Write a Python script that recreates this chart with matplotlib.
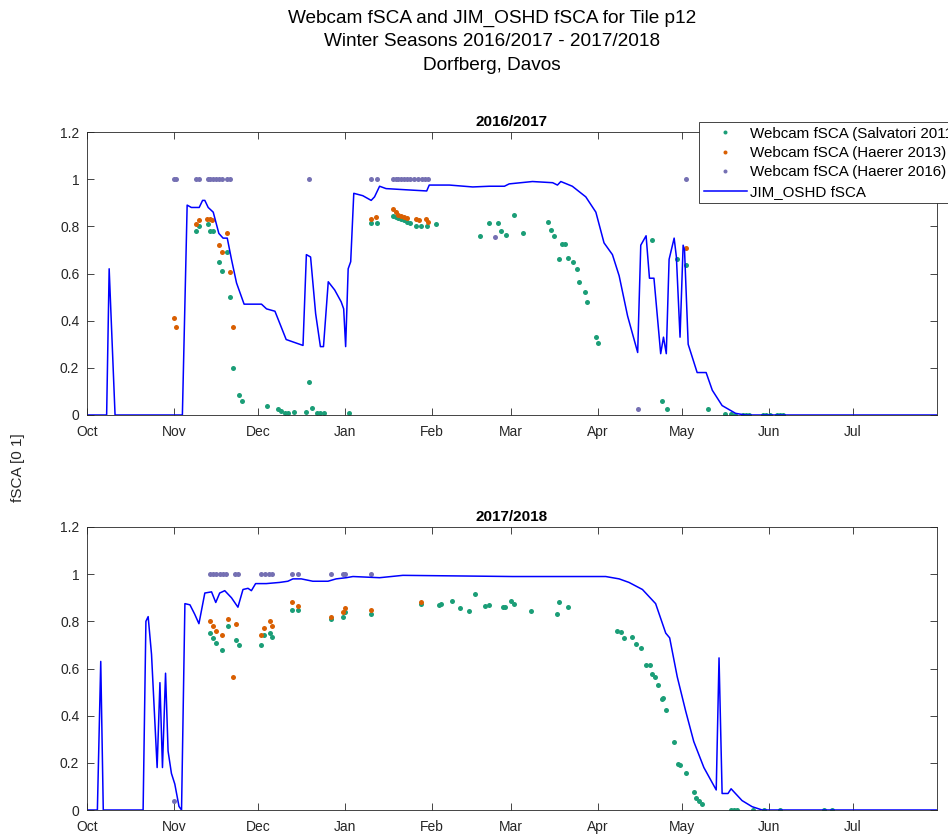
import matplotlib
matplotlib.use("Agg")
import matplotlib.pyplot as plt

plt.rcParams['font.family'] = ['Liberation Sans', 'DejaVu Sans']

# x values: days since 1 October of each season
month_ticks = [0, 31, 61, 92, 123, 151, 182, 212, 243, 273]
month_labels = ['Oct', 'Nov', 'Dec', 'Jan', 'Feb', 'Mar', 'Apr', 'May', 'Jun', 'Jul']
season_titles = ['2016/2017', '2017/2018']

# ---------------- Season 2016/2017 ----------------
jim1_days = [0, 7.0, 7.9, 10.0, 34.0, 35.7, 37.2, 40, 41.2, 42, 43.2, 45, 47, 48.5, 50, 51.5,
             53.3, 56, 62.2, 64, 67, 71, 73.4, 77, 78.2, 79.7, 81.5, 83.2, 84.3, 86, 88.3,
             90.6, 91.5, 92.2, 93.1, 94, 95.1, 98.3, 101.3, 102.5, 104.3, 106.6, 113.7,
             121.1, 122, 129.2, 137.5, 143.4, 148.8, 150.5, 158.8, 166, 167.7, 168.9, 173,
             177.8, 181.4, 184.3, 187.3, 189.7, 192.7, 196.3, 197.4, 199.3, 200.5, 202.1,
             204.5, 205.5, 206.5, 207.5, 209.3, 210.1, 211.4, 212.5, 213, 214.3, 217.5,
             220.7, 222.9, 226.4, 231.2, 234.7, 303]
jim1_vals = [0, 0, 0.62, 0, 0, 0.89, 0.88, 0.88, 0.91, 0.91, 0.88, 0.86, 0.77, 0.75, 0.75, 0.66,
             0.56, 0.47, 0.47, 0.45, 0.44, 0.32, 0.31, 0.295, 0.68, 0.67, 0.43, 0.29, 0.29, 0.565,
             0.53, 0.48, 0.45, 0.29, 0.62, 0.65, 0.94, 0.93, 0.91, 0.925, 0.97, 0.96, 0.955,
             0.95, 0.975, 0.975, 0.967, 0.97, 0.97, 0.98, 0.99, 0.985, 0.975, 0.99, 0.97,
             0.925, 0.86, 0.73, 0.68, 0.59, 0.42, 0.265, 0.72, 0.76, 0.58, 0.58,
             0.26, 0.33, 0.26, 0.66, 0.75, 0.67, 0.33, 0.72, 0.70, 0.30, 0.18,
             0.18, 0.105, 0.04, 0.007, 0, 0]

salv1_days = [39, 40, 43.2, 44, 45, 47.1, 48, 50, 51.1, 52.1, 54.2, 55.2, 64.2, 68.1, 69, 70.5,
              71.5, 73.7, 78.2, 79.1, 80.2, 82, 83.2, 84.4, 93.3, 101.3, 103.2, 109, 110, 111,
              112, 113, 114, 115, 117.3, 119.1, 121.1, 124.4, 140.2, 143.4, 146.4, 147.5,
              149.3, 152.3, 155.3, 164.4, 165.4, 166.5, 169.2, 170.5, 168.3, 171.3, 173.4,
              174.5, 175.4, 177.5, 178.4, 181.4, 182.3, 201.3, 205.1, 206.6, 210.4, 213.6,
              221.5, 227.6, 229.5, 231, 234, 235, 236, 241, 242, 243.5, 246, 247, 248]
salv1_vals = [0.78, 0.80, 0.81, 0.78, 0.78, 0.65, 0.61, 0.69, 0.50, 0.20, 0.085, 0.06, 0.04, 0.027,
              0.017, 0.01, 0.008, 0.014, 0.013, 0.14, 0.028, 0.01, 0.01, 0.01, 0.01, 0.815, 0.815,
              0.845, 0.84, 0.835, 0.83, 0.825, 0.82, 0.815, 0.80, 0.80, 0.80, 0.81, 0.76, 0.815,
              0.815, 0.78, 0.765, 0.85, 0.77, 0.82, 0.785, 0.76, 0.725, 0.725, 0.66, 0.665, 0.65,
              0.62, 0.565, 0.52, 0.48, 0.33, 0.305, 0.74, 0.06, 0.027, 0.66, 0.635,
              0.027, 0.003, 0.003, 0.002, 0.002, 0.002, 0.002, 0.002, 0.002, 0.002, 0.002, 0.002,
              0.002]

h13_1_days = [31.1, 31.9, 39, 40, 42.8, 43.7, 44.7, 50, 47.1, 48, 51.1, 52.1, 101.3, 103.1,
              109, 110, 111, 112, 113, 114, 117.3, 118.5, 120.9, 121.5, 213.4]
h13_1_vals = [0.41, 0.375, 0.81, 0.825, 0.83, 0.83, 0.825, 0.77, 0.72, 0.69, 0.605, 0.375,
              0.83, 0.84, 0.875, 0.86, 0.85, 0.845, 0.84, 0.835, 0.83, 0.825, 0.83, 0.82, 0.71]

h16_1_days = [31.1, 31.9, 39, 40, 43.2, 44, 45, 46, 47.1, 48.3, 50, 51.1, 79.1, 101.3, 103.4,
              109, 110, 111, 112, 113, 114, 115, 116.7, 118, 119.3, 120.5, 121.5, 145.3,
              196.4, 213.6]
h16_1_vals = [1, 1, 1, 1, 1, 1, 1, 1, 1, 1, 1, 1, 1, 1, 1,
              1, 1, 1, 1, 1, 1, 1, 1, 1, 1, 1, 1, 0.755,
              0.027, 1]

# ---------------- Season 2017/2018 ----------------
jim2_days = [0, 3.7, 4.9, 5.8, 20, 21, 21.8, 23, 25, 26, 26.9, 28, 28.9, 30.1, 31.3, 32.8, 33.7,
             34.9, 36.7, 38.4, 39.9, 42, 44.4, 45.9, 47.3, 49.1, 51.5, 53.8, 55.6, 57.4, 58.6,
             60.1, 63.9, 68.7, 71.6, 73.4, 76.4, 80.5, 85.9, 88.8, 92.4, 94.8, 104.3, 112.6,
             151.7, 184.9, 189.7, 193.2, 198, 202.7, 206.3, 207.7, 210.4, 213.4, 216.3, 219.9,
             224.3, 225.3, 226.4, 228.5, 229.6, 233.5, 237.1, 240.7, 303]
jim2_vals = [0, 0, 0.63, 0, 0, 0.80, 0.82, 0.66, 0.18, 0.54, 0.18, 0.58, 0.25, 0.155, 0.11, 0.015, 0,
             0.875, 0.87, 0.83, 0.79, 0.92, 0.925, 0.88, 0.92, 0.93, 0.90, 0.86, 0.935, 0.94, 0.93,
             0.96, 0.96, 0.965, 0.97, 0.98, 0.98, 0.97, 0.97, 0.98, 0.985, 0.99, 0.985, 0.995,
             0.99, 0.99, 0.98, 0.965, 0.935, 0.875, 0.75, 0.73, 0.565, 0.42, 0.29, 0.18,
             0.085, 0.645, 0.07, 0.07, 0.09, 0.04, 0.014, 0, 0]

salv2_days = [44, 45, 45.9, 48, 50.1, 53, 54.1, 62.2, 63, 65.1, 66.1, 73.1, 75.2, 87.1, 91.2,
              92.1, 101.3, 119.1, 125.4, 126.2, 130.1, 133.1, 136.3, 138.3, 142, 143.4, 148.2,
              149, 151.3, 152.3, 158.2, 167.4, 168.3, 171.5, 189.1, 190.3, 191.5, 194.4, 195.6,
              197.6, 199.2, 200.6, 201.5, 202.5, 203.6, 204.8, 205.3, 206.5, 209.3, 210.8,
              211.4, 213.4, 216.3, 217.2, 218, 219.3, 229.4, 230.8, 231.6, 237.5, 241.5, 247,
              262.6, 265.6]
salv2_vals = [0.75, 0.73, 0.71, 0.68, 0.78, 0.72, 0.70, 0.70, 0.74, 0.75, 0.735, 0.85, 0.85, 0.81,
              0.82, 0.84, 0.83, 0.875, 0.87, 0.875, 0.885, 0.855, 0.845, 0.915, 0.865, 0.87, 0.86,
              0.862, 0.885, 0.875, 0.845, 0.83, 0.88, 0.86, 0.76, 0.755, 0.73, 0.735, 0.705,
              0.685, 0.615, 0.615, 0.575, 0.565, 0.53, 0.47, 0.475, 0.425, 0.29, 0.195,
              0.19, 0.155, 0.078, 0.052, 0.04, 0.025, 0.002, 0.002, 0.002, 0.002, 0.002, 0.002,
              0.002, 0.002]

h13_2_days = [44, 45, 45.9, 48, 50.1, 52.1, 53, 62.2, 63, 65.1, 66.1, 73.1, 75.2, 87.1, 91.2,
              92.1, 101.3, 119.1]
h13_2_vals = [0.80, 0.78, 0.76, 0.74, 0.81, 0.565, 0.79, 0.74, 0.77, 0.80, 0.78, 0.88, 0.865,
              0.82, 0.84, 0.855, 0.85, 0.88]

h16_2_days = [31.1, 43.8, 45, 46.1, 47.3, 48.5, 49.7, 52.7, 53.8, 62.2, 63.3, 64.9, 66.1, 73.1,
              75.2, 87.1, 91.2, 92.1, 101.3]
h16_2_vals = [0.04, 1, 1, 1, 1, 1, 1, 1, 1, 1, 1, 1, 1, 1,
              1, 1, 1, 1, 1]

seasons = [
    (jim1_days, jim1_vals, salv1_days, salv1_vals, h13_1_days, h13_1_vals, h16_1_days, h16_1_vals),
    (jim2_days, jim2_vals, salv2_days, salv2_vals, h13_2_days, h13_2_vals, h16_2_days, h16_2_vals),
]

c_salv = '#1b9e77'
c_h13 = '#d95f02'
c_h16 = '#7570b3'
c_jim = '#0000ff'
axis_col = '#262626'

fig = plt.figure(figsize=(9.48, 8.36), dpi=100)
W, H = 948, 836
ax_left, ax_right = 87, 937
ax_tops = [132, 527]
ax_bots = [415, 810]

handles = None
for i, (jd, jv, sd, sv, h13d, h13v, h16d, h16v) in enumerate(seasons):
    ax = fig.add_axes([ax_left / W, 1 - ax_bots[i] / H, (ax_right - ax_left) / W,
                       (ax_bots[i] - ax_tops[i]) / H])
    ms = 3.6
    l1, = ax.plot(sd, sv, 'o', color=c_salv, ms=ms, mew=0, linestyle='none',
                  label='Webcam fSCA (Salvatori 2011)')
    l2, = ax.plot(h13d, h13v, 'o', color=c_h13, ms=ms, mew=0, linestyle='none',
                  label='Webcam fSCA (Haerer 2013)')
    l3, = ax.plot(h16d, h16v, 'o', color=c_h16, ms=ms, mew=0, linestyle='none',
                  label='Webcam fSCA (Haerer 2016)')
    l4, = ax.plot(jd, jv, '-', color=c_jim, lw=1.1, label='JIM_OSHD fSCA')
    if handles is None:
        handles = [l1, l2, l3, l4]
    ax.set_xlim(0, 303)
    ax.set_ylim(0, 1.2)
    ax.set_xticks(month_ticks)
    ax.set_xticklabels(month_labels)
    ax.set_yticks([0, 0.2, 0.4, 0.6, 0.8, 1, 1.2])
    ax.set_yticklabels(['0', '0.2', '0.4', '0.6', '0.8', '1', '1.2'])
    ax.tick_params(direction='in', top=True, right=True, length=5, width=0.6,
                   labelsize=10, colors=axis_col, labelcolor=axis_col)
    ax.tick_params(axis='x', pad=7.5)
    ax.tick_params(axis='y', pad=5.5)
    for sp in ax.spines.values():
        sp.set_color(axis_col)
        sp.set_linewidth(0.6)
    ax.set_title(season_titles[i], fontsize=11, fontweight='bold', pad=4)

title_x = 492 / W
fig.text(title_x, 1 - 18 / H, 'Webcam fSCA and JIM_OSHD fSCA for Tile p12', ha='center',
         va='center', fontsize=13.7)
fig.text(title_x, 1 - 42 / H, 'Winter Seasons 2016/2017 - 2017/2018', ha='center',
         va='center', fontsize=13.7)
fig.text(title_x, 1 - 66 / H, 'Dorfberg, Davos', ha='center', va='center', fontsize=13.7)
fig.text(18 / W, 1 - 468 / H, 'fSCA [0 1]', rotation=90, ha='center', va='center',
         fontsize=11, color=axis_col)

leg = fig.legend(handles=handles, loc='upper left', bbox_to_anchor=(699 / W, 1 - 122 / H),
                 bbox_transform=fig.transFigure, fontsize=10.9, frameon=True, fancybox=False,
                 edgecolor=axis_col, framealpha=1, handlelength=2.9, handletextpad=0.2,
                 labelspacing=0.36, borderpad=0.3, borderaxespad=0, markerscale=0.8)
leg.get_frame().set_linewidth(0.6)

fig.savefig('out.png', dpi=100)
